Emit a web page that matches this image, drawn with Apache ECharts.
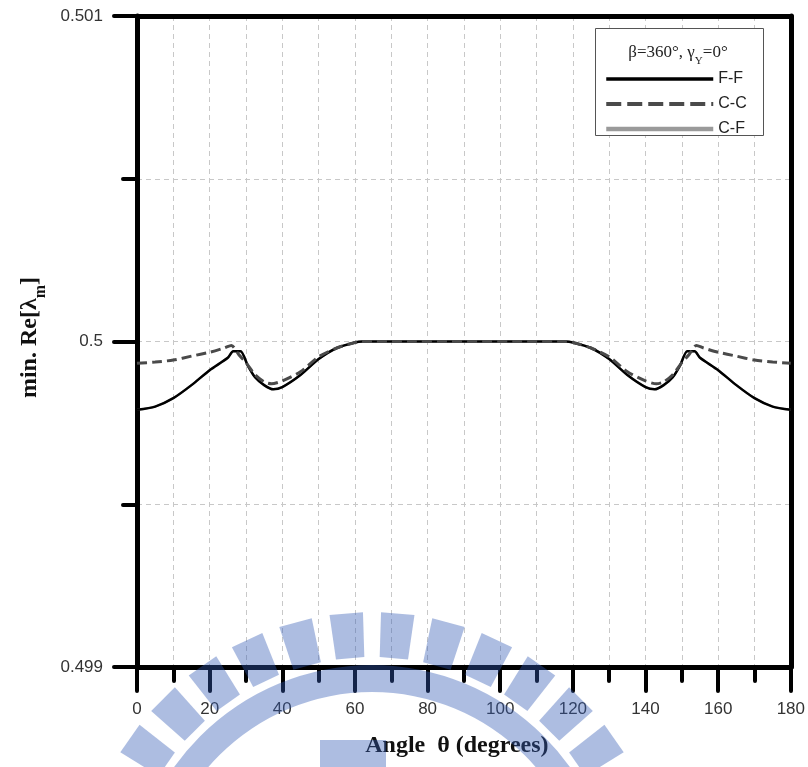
<!DOCTYPE html>
<html>
<head>
<meta charset="utf-8">
<script src="https://cdn.jsdelivr.net/npm/echarts@6/dist/echarts.min.js"></script>
<style>
  html, body { margin: 0; padding: 0; background: #fff; }
  #chart { width: 808px; height: 767px; }
</style>
</head>
<body>
<div id="chart"></div>
<script>
// Minimum real part of the eigenvalue versus angle, for three boundary conditions.
const thetaFF = [0, 5, 10, 15, 20, 25, 26.5, 28.5, 30.5, 32.5, 35, 37.5, 40, 45, 50, 55, 60, 62,
                 118, 120, 125, 130, 135, 140, 142.5, 145, 147.5, 149.5, 151.5, 153.5, 155, 160, 165, 170, 175, 180];
const minReFF = [0.49979, 0.49980, 0.499826, 0.499866, 0.499912, 0.49995, 0.49997, 0.49997, 0.499926, 0.49989, 0.499866, 0.499853, 0.49986, 0.499897, 0.499946, 0.49998, 0.499997, 0.5,
                 0.5, 0.499997, 0.49998, 0.499946, 0.499897, 0.49986, 0.499853, 0.499866, 0.49989, 0.499926, 0.49997, 0.49997, 0.49995, 0.499912, 0.499866, 0.499826, 0.49980, 0.49979];

const thetaCC = [0, 5, 10, 15, 20, 24, 26, 28, 30, 32.5, 35, 37, 40, 45, 50, 55, 60, 62,
                 118, 120, 125, 130, 135, 140, 143, 145, 147.5, 150, 152, 154, 156, 160, 165, 170, 175, 180];
const minReCC = [0.499933, 0.499937, 0.499943, 0.499955, 0.499967, 0.49998, 0.499988, 0.49996, 0.499935, 0.499898, 0.499876, 0.49987, 0.499879, 0.499907, 0.499953, 0.49998, 0.499997, 0.5,
                 0.5, 0.499997, 0.49998, 0.499953, 0.499907, 0.499879, 0.49987, 0.499876, 0.499898, 0.499935, 0.49996, 0.499988, 0.49998, 0.499967, 0.499955, 0.499943, 0.499937, 0.499933];

// C-F coincides with F-F and lies underneath it.
const thetaCF = thetaFF.slice();
const minReCF = minReFF.slice();

const seriesNames = ['F-F', 'C-C', 'C-F'];
const xTickValues = [0, 20, 40, 60, 80, 100, 120, 140, 160, 180];
const yTickLabels = ['0.499', '0.5', '0.501'];

const pairs = (xs, ys) => xs.map((x, i) => [x, ys[i]]);

const chart = echarts.init(document.getElementById('chart'), null, { renderer: 'canvas' });

const tickStyle = { color: '#000', width: 4, cap: 'round' };
const gridDash = { color: '#c8c8c8', width: 1, type: [5, 4] };
const frameLine = { show: true, onZero: false, lineStyle: { color: '#000', width: 5 } };

// Watermark: a gear-like ring of blocks around a solid ring, semi-transparent blue.
const wmFill = 'rgba(50, 90, 180, 0.4)';
const wmCx = 372, wmCy = 908;
const wmGraphics = [];
for (let phi = -65; phi <= 65.1; phi += 10) {
  const pts = [];
  const half = 3.25, r0 = 251, r1 = 296;
  [[r0, -half], [r1, -half], [r1, half], [r0, half]].forEach(([r, d]) => {
    const a = (phi + d) * Math.PI / 180;
    pts.push([wmCx + r * Math.sin(a), wmCy - r * Math.cos(a)]);
  });
  wmGraphics.push({ type: 'polygon', z: 100, silent: true, shape: { points: pts }, style: { fill: wmFill } });
}
wmGraphics.push({
  type: 'sector', z: 100, silent: true,
  shape: { cx: wmCx, cy: wmCy, r: 243, r0: 216, startAngle: -Math.PI, endAngle: 0 },
  style: { fill: wmFill }
});
wmGraphics.push({ type: 'rect', z: 100, silent: true, shape: { x: 320, y: 740, width: 66, height: 30 }, style: { fill: wmFill } });

const option = {
  backgroundColor: '#fff',
  animation: false,
  grid: { left: 137, right: 17, top: 16, bottom: 100 },
  xAxis: [{
    type: 'value', min: 0, max: 180, interval: 20,
    name: 'Angle  θ (degrees)', nameLocation: 'middle', nameGap: 67,
    nameTextStyle: { fontFamily: 'Liberation Serif', fontWeight: 'bold', fontSize: 24, color: '#111', padding: [0, 14, 0, 0] },
    axisLine: frameLine,
    axisTick: { show: true, inside: false, length: 24, lineStyle: tickStyle },
    minorTick: { show: true, splitNumber: 2, length: 14, lineStyle: tickStyle },
    axisLabel: { margin: 34, fontFamily: 'Liberation Sans', fontSize: 17, color: '#333',
                 formatter: v => (xTickValues.indexOf(v) >= 0 ? String(v) : '') },
    splitLine: { show: true, lineStyle: gridDash },
    minorSplitLine: { show: true, lineStyle: gridDash }
  }, {
    type: 'value', min: 0, max: 180, position: 'top',
    axisLine: frameLine, axisTick: { show: false }, axisLabel: { show: false }, splitLine: { show: false }
  }],
  yAxis: [{
    type: 'value', min: 0.499, max: 0.501, interval: 0.001,
    name: '{a|min. Re[λ}{s|m}{a|]}', nameLocation: 'middle', nameGap: 95, nameRotate: 90,
    nameTextStyle: {
      padding: [0, 0, 0, 8],
      rich: {
        a: { fontFamily: 'Liberation Serif', fontWeight: 'bold', fontSize: 24, color: '#111' },
        s: { fontFamily: 'Liberation Serif', fontWeight: 'bold', fontSize: 16, color: '#111', verticalAlign: 'bottom', padding: [0, 0, -7, 0] }
      }
    },
    axisLine: frameLine,
    axisTick: { show: true, inside: false, length: 23, lineStyle: tickStyle },
    minorTick: { show: true, splitNumber: 2, length: 14, lineStyle: tickStyle },
    axisLabel: { margin: 34, fontFamily: 'Liberation Sans', fontSize: 17, color: '#333',
                 formatter: v => yTickLabels[Math.round((v - 0.499) / 0.001)] || '' },
    splitLine: { show: true, lineStyle: gridDash },
    minorSplitLine: { show: true, lineStyle: gridDash }
  }, {
    type: 'value', min: 0.499, max: 0.501, position: 'right',
    axisLine: frameLine, axisTick: { show: false }, axisLabel: { show: false }, splitLine: { show: false }
  }],
  legend: {
    orient: 'vertical', left: 604, top: 70, z: 10, padding: 0,
    itemWidth: 107, itemHeight: 18, itemGap: 7,
    itemStyle: { opacity: 0 },
    data: [
      { name: seriesNames[0], lineStyle: { width: 3.5 } },
      { name: seriesNames[1], lineStyle: { width: 4, type: [15, 6] } },
      { name: seriesNames[2], lineStyle: { width: 4.5 } }
    ],
    textStyle: { fontFamily: 'Liberation Sans', fontSize: 16, color: '#222', lineHeight: 18 },
    selectedMode: false
  },
  graphic: [
    { type: 'rect', z: 3, shape: { x: 595.5, y: 28.5, width: 168, height: 107 },
      style: { fill: '#fff', stroke: '#555', lineWidth: 1 } },
    { type: 'text', z: 5, x: 678, y: 53,
      style: {
        text: '{a|β=360°, γ}{s|Y}{a|=0°}',
        align: 'center', verticalAlign: 'middle',
        rich: {
          a: { fontFamily: 'Liberation Serif', fontSize: 17, fill: '#222' },
          s: { fontFamily: 'Liberation Serif', fontSize: 11, fill: '#222', verticalAlign: 'bottom', padding: [0, 0, -5, 0] }
        }
      } }
  ].concat(wmGraphics),
  series: [
    { name: seriesNames[2], type: 'line', data: pairs(thetaCF, minReCF), showSymbol: false, symbol: 'none', smooth: 0.25, z: 2,
      lineStyle: { color: '#9a9a9a', width: 2 }, itemStyle: { color: '#9a9a9a' } },
    { name: seriesNames[0], type: 'line', data: pairs(thetaFF, minReFF), showSymbol: false, symbol: 'none', smooth: 0.25, z: 3,
      lineStyle: { color: '#000', width: 2.5 }, itemStyle: { color: '#000' } },
    { name: seriesNames[1], type: 'line', data: pairs(thetaCC, minReCC), showSymbol: false, symbol: 'none', smooth: 0.25, z: 4,
      lineStyle: { color: '#4a4a4a', width: 3, type: [10, 5] }, itemStyle: { color: '#4a4a4a' } }
  ]
};

chart.setOption(option);
</script>
</body>
</html>
